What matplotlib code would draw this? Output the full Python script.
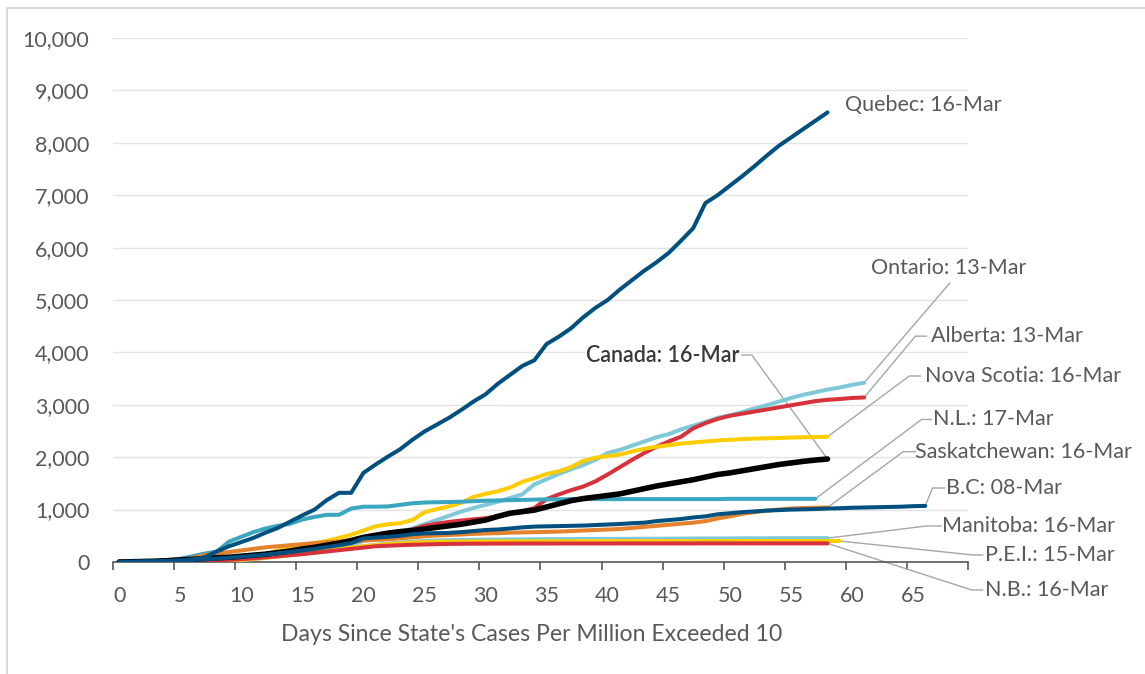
import matplotlib
matplotlib.use('Agg')
import matplotlib.pyplot as plt
from matplotlib.lines import Line2D
from matplotlib.ticker import FuncFormatter

plt.rcParams['font.family'] = ['Lato', 'DejaVu Sans']

# cases per million, by day since the province passed 10 per million
quebec = [0, 5, 10, 15, 20, 30, 50, 90, 200, 300, 380, 460, 560, 650, 770, 890, 1000, 1180, 1320, 1320,
          1700, 1860, 2010, 2150, 2330, 2490, 2620, 2750, 2900, 3060, 3200, 3400, 3570, 3740, 3850, 4160,
          4300, 4460, 4670, 4850, 5000, 5200, 5380, 5560, 5720, 5900, 6130, 6370, 6850, 7000, 7180, 7360,
          7550, 7750, 7940, 8100, 8260, 8420, 8580]
ontario = [0, 3, 6, 9, 12, 15, 18, 22, 26, 32, 40, 55, 80, 105, 130, 155, 180, 220, 280, 340,
           400, 450, 500, 570, 640, 720, 800, 880, 960, 1030, 1090, 1150, 1220, 1290, 1480, 1580,
           1680, 1770, 1850, 1950, 2080, 2140, 2220, 2300, 2380, 2440, 2530, 2600, 2670, 2750, 2800,
           2860, 2930, 2990, 3060, 3130, 3190, 3240, 3290, 3330, 3380, 3420]
alberta = [0, 4, 8, 12, 18, 25, 35, 45, 60, 80, 100, 125, 150, 175, 200, 230, 260, 295, 330, 375,
           420, 460, 500, 560, 620, 690, 730, 765, 790, 815, 835, 870, 920, 970, 1030, 1200, 1290,
           1370, 1440, 1540, 1670, 1810, 1950, 2080, 2200, 2300, 2390, 2550, 2650, 2730, 2790, 2830,
           2870, 2910, 2950, 2990, 3030, 3070, 3095, 3110, 3130, 3140]
nova_scotia = [0, 2, 4, 6, 8, 10, 12, 15, 20, 35, 60, 100, 150, 220, 270, 310, 360, 400, 460, 520,
               600, 680, 720, 740, 800, 950, 1010, 1060, 1130, 1240, 1300, 1350, 1420, 1530, 1600,
               1680, 1730, 1810, 1930, 1990, 2020, 2050, 2110, 2160, 2200, 2230, 2260, 2280, 2300,
               2320, 2330, 2345, 2355, 2360, 2365, 2375, 2380, 2385, 2390]
canada = [0, 5, 10, 15, 25, 40, 50, 65, 80, 90, 110, 130, 150, 180, 210, 250, 280, 320, 360, 410,
          470, 510, 550, 580, 600, 630, 660, 690, 720, 760, 800, 870, 930, 960, 990, 1050, 1110,
          1170, 1210, 1240, 1270, 1300, 1350, 1400, 1450, 1490, 1530, 1570, 1620, 1670, 1700, 1740,
          1780, 1820, 1860, 1890, 1920, 1945, 1965]
nl = [0, 5, 10, 20, 35, 60, 110, 160, 200, 390, 480, 570, 640, 690, 730, 810, 860, 900, 900, 1020,
      1055, 1055, 1060, 1090, 1120, 1135, 1140, 1145, 1150, 1160, 1170, 1175, 1180, 1185, 1190, 1195,
      1195, 1200, 1200, 1200, 1200, 1200, 1200, 1200, 1200, 1200, 1200, 1200, 1200, 1200, 1205,
      1205, 1205, 1205, 1205, 1205, 1205, 1205]
saskatchewan = [0, 5, 10, 15, 20, 30, 80, 130, 160, 190, 220, 250, 280, 300, 320, 340, 360, 380, 390,
                400, 410, 420, 430, 450, 470, 490, 505, 515, 525, 535, 545, 550, 560, 565, 570, 575,
                580, 590, 600, 610, 620, 630, 650, 670, 690, 710, 730, 750, 780, 830, 870, 920, 950,
                980, 1000, 1020, 1030, 1035, 1040]
bc = [0, 3, 6, 10, 15, 25, 40, 52, 65, 80, 100, 120, 140, 165, 190, 220, 250, 285, 320, 360, 450,
      465, 480, 500, 530, 545, 550, 555, 570, 590, 610, 620, 640, 660, 675, 680, 685, 690, 695, 705,
      715, 725, 740, 750, 780, 800, 820, 850, 870, 910, 930, 950, 965, 980, 990, 1000, 1005, 1010,
      1020, 1025, 1035, 1040, 1045, 1050, 1055, 1065, 1070]
manitoba = [0, 3, 6, 10, 15, 20, 30, 40, 50, 60, 70, 90, 110, 140, 165, 190, 215, 240, 265, 285,
            300, 325, 350, 370, 390, 400, 410, 415, 420, 423, 425, 427, 429, 431, 433, 435, 436, 437,
            438, 439, 440, 441, 442, 443, 444, 445, 446, 447, 448, 449, 450, 451, 452, 452, 453, 453,
            454, 454, 455]
pei = [0, 2, 4, 6, 8, 10, 12, 15, 20, 30, 40, 60, 80, 105, 130, 160, 190, 220, 250, 275, 300, 320,
       340, 355, 370, 378, 385, 388, 390, 391, 392, 393, 394, 395, 395, 396, 396, 397, 397, 397, 398,
       398, 398, 398, 399, 399, 399, 399, 399, 400, 400, 400, 400, 400, 400, 400, 400, 400, 400, 400]
nb = [0, 2, 4, 6, 8, 12, 16, 22, 30, 40, 55, 70, 90, 110, 130, 150, 175, 200, 225, 250, 275, 300,
      310, 320, 328, 335, 340, 345, 347, 349, 350, 351, 351, 352, 352, 352, 353, 353, 353, 353, 353,
      354, 354, 354, 354, 354, 354, 354, 355, 355, 355, 355, 355, 355, 355, 355, 355, 355, 355]

x_ticks = list(range(0, 70, 5))
y_ticks = list(range(0, 10001, 1000))

# name, values, colour, label text
series = [
    ('Ontario', ontario, '#7EC8D8', 'Ontario: 13-Mar'),
    ('Alberta', alberta, '#D7323C', 'Alberta: 13-Mar'),
    ('Nova Scotia', nova_scotia, '#FFCC00', 'Nova Scotia: 16-Mar'),
    ('N.L.', nl, '#3BA6C0', 'N.L.: 17-Mar'),
    ('Saskatchewan', saskatchewan, '#E5822B', 'Saskatchewan: 16-Mar'),
    ('Manitoba', manitoba, '#7EC8D8', 'Manitoba: 16-Mar'),
    ('P.E.I.', pei, '#FFCC00', 'P.E.I.: 15-Mar'),
    ('N.B.', nb, '#D7323C', 'N.B.: 16-Mar'),
    ('Canada', canada, '#000000', 'Canada: 16-Mar'),
    ('B.C', bc, '#00507F', 'B.C: 08-Mar'),
    ('Quebec', quebec, '#00507F', 'Quebec: 16-Mar'),
]

# label layout: (bend point, end of horizontal stub, text anchor) in data units
label_layout = {
    'Quebec': (None, None, (59.4, 8720)),
    'Ontario': ((68.0, 5320), None, (61.6, 5610)),
    'Alberta': ((65.2, 4310), 66.1, (66.5, 4310)),
    'Nova Scotia': ((64.7, 3550), 65.6, (66.0, 3550)),
    'Canada': ((51.8, 3950), 51.0, (50.8, 3950)),
    'N.L.': ((65.7, 2720), 66.5, (66.6, 2720)),
    'Saskatchewan': ((64.2, 2105), 65.2, (65.2, 2105)),
    'B.C': ((66.6, 1412), 67.6, (67.7, 1412)),
    'Manitoba': ((66.1, 687), 67.3, (67.4, 687)),
    'P.E.I.': ((69.9, 134), 70.7, (70.9, 134)),
    'N.B.': ((69.8, -534), 70.7, (70.9, -534)),
}

fig = plt.figure(figsize=(11.45, 6.74), dpi=100)
ax = fig.add_axes([0.0987, 0.1662, 0.7467, 0.7774])

for name, vals, color, text in series:
    lw = 4.0 if name == 'Canada' else 2.9
    ax.plot(range(len(vals)), vals, color=color, lw=lw, solid_capstyle='round',
            solid_joinstyle='round', zorder=3)

    end = (len(vals) - 1, vals[-1])
    bend, stub, pos = label_layout[name]
    lead_x, lead_y = [end[0]], [end[1]]
    if bend is not None:
        lead_x.append(bend[0])
        lead_y.append(bend[1])
        if stub is not None:
            lead_x.append(stub)
            lead_y.append(bend[1])
        ax.plot(lead_x, lead_y, color='#A6A6A6', lw=1.0, zorder=2.5, clip_on=False)

    if name == 'Canada':
        ax.text(pos[0], pos[1], text, ha='right', va='center', fontsize=15.5, color='#3A3A3A',
                fontweight='semibold',
                bbox=dict(facecolor='white', edgecolor='none', pad=0.5), zorder=4)
    else:
        ax.text(pos[0], pos[1], text, ha='left', va='center', fontsize=15.5, color='#595959',
                clip_on=False)

ax.set_xlim(-0.5, 69.5)
ax.set_ylim(0, 10000)
ax.set_xticks(x_ticks)
ax.set_xticks([t - 0.5 for t in range(0, 71, 5)], minor=True)
ax.set_yticks(y_ticks)
ax.yaxis.set_major_formatter(FuncFormatter(lambda v, p: f'{int(v):,}'))
ax.grid(axis='y', color='#E3E3E3', lw=1.0)
ax.set_axisbelow(True)

for s in ['top', 'right', 'left']:
    ax.spines[s].set_visible(False)
ax.spines['bottom'].set_color('#595959')
ax.spines['bottom'].set_linewidth(1.2)

ax.tick_params(axis='x', which='major', length=0, pad=17.5, labelsize=15.5, labelcolor='#595959')
ax.tick_params(axis='x', which='minor', length=6, width=1.2, color='#595959')
ax.tick_params(axis='y', length=0, pad=17, labelsize=15.5, labelcolor='#595959')

ax.set_xlabel("Days Since State's Cases Per Million Exceeded 10", fontsize=16.6,
              color='#595959')
ax.xaxis.set_label_coords((532 - 113) / 855, -0.118)

# chart-area border (only top and left edges fall inside the picture)
fig.add_artist(Line2D([0.0061, 0.0061], [0.0, 0.988], color='#D9D9D9', lw=1.4,
                      transform=fig.transFigure))
fig.add_artist(Line2D([0.0061, 1.0], [0.988, 0.988], color='#D9D9D9', lw=1.4,
                      transform=fig.transFigure))

fig.savefig('out.png', dpi=100)
